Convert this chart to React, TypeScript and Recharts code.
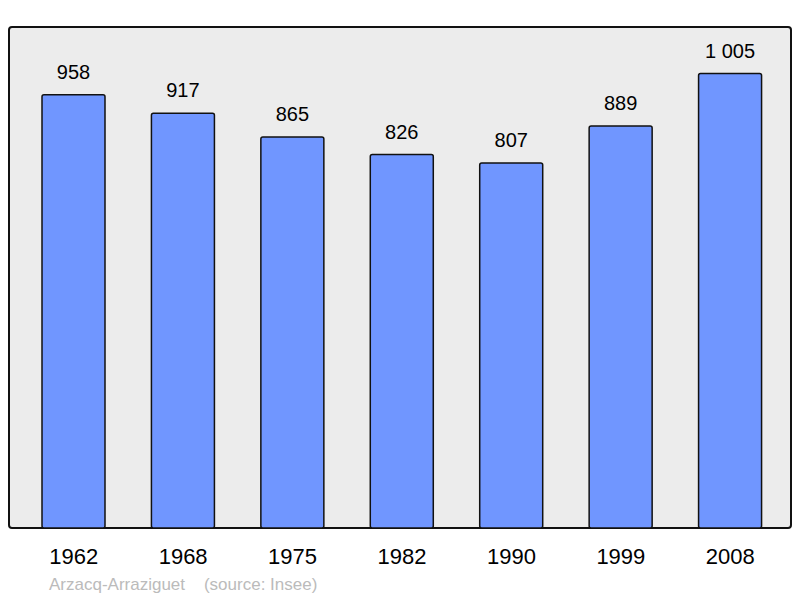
import { BarChart, Bar, XAxis, YAxis, LabelList } from "recharts";

const years = ["1962", "1968", "1975", "1982", "1990", "1999", "2008"];
const population = [958, 917, 865, 826, 807, 889, 1005];

const data = years.map((year, i) => ({ year, population: population[i] }));

const formatPop = (v: any) =>
  String(v).replace(/\B(?=(\d{3})+(?!\d))/g, " ");

export default function App() {
  return (
    <div
      style={{
        position: "absolute",
        left: 0,
        top: 0,
        width: 800,
        height: 598,
        background: "#fff",
        fontFamily: "'Liberation Sans', Arial, sans-serif",
      }}
    >
      <div
        style={{
          position: "absolute",
          left: 8,
          top: 26,
          width: 780,
          height: 499,
          background: "#ececec",
          border: "2px solid #111",
          borderRadius: 4,
        }}
      />
      <BarChart
        width={800}
        height={598}
        data={data}
        margin={{ top: 27, right: 9, left: 9, bottom: 40 }}
        style={{ position: "absolute", left: 0, top: 0 }}
      >
        <YAxis hide domain={[0, 1108]} />
        <XAxis
          dataKey="year"
          height={30}
          axisLine={false}
          tickLine={false}
          padding={{ left: 10, right: 6 }}
          tick={{ fill: "#000", fontSize: 22, fontFamily: "'Liberation Sans', Arial, sans-serif" }}
          tickMargin={14}
          interval={0}
        />
        <Bar
          dataKey="population"
          fill="#7096ff"
          stroke="#111"
          strokeWidth={1.5}
          barSize={63}
          radius={2}
          isAnimationActive={false}
        >
          <LabelList
            dataKey="population"
            position="top"
            offset={16}
            formatter={formatPop}
            style={{ fill: "#000", fontSize: 20, fontFamily: "'Liberation Sans', Arial, sans-serif" }}
          />
        </Bar>
      </BarChart>
      <div
        style={{
          position: "absolute",
          left: 49,
          top: 575,
          fontSize: 17,
          color: "#bbbbbb",
          whiteSpace: "pre",
        }}
      >
        {"Arzacq-Arraziguet    (source: Insee)"}
      </div>
    </div>
  );
}
